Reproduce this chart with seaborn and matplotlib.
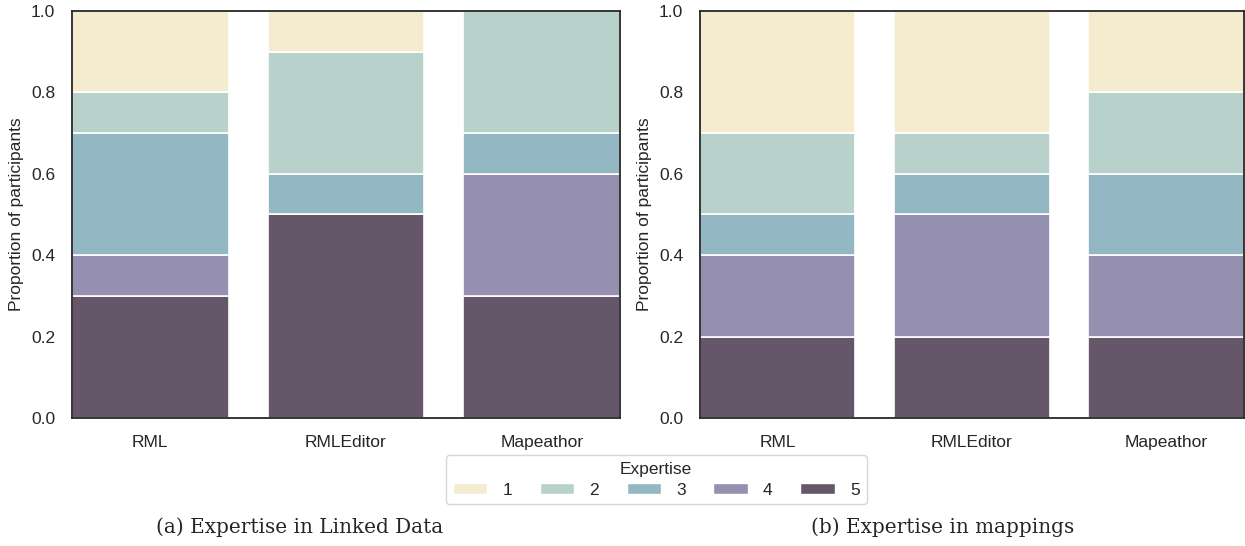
import matplotlib
matplotlib.use("Agg")
import matplotlib.pyplot as plt
from matplotlib.patches import Patch
import pandas as pd
import seaborn as sns

# Tools compared and expertise levels (1 = lowest, 5 = highest)
tools = ["RML", "RMLEditor", "Mapeathor"]
levels = ["1", "2", "3", "4", "5"]

# Number of participants per tool at each expertise level (levels 1..5)
linked_data_rml = [2, 1, 3, 1, 3]
linked_data_rmleditor = [1, 3, 1, 0, 5]
linked_data_mapeathor = [0, 3, 1, 3, 3]

mappings_rml = [3, 2, 1, 2, 2]
mappings_rmleditor = [3, 1, 1, 3, 2]
mappings_mapeathor = [2, 2, 2, 2, 2]

captions = ["(a) Expertise in Linked Data", "(b) Expertise in mappings"]
palette = ["#f5ecd0", "#b8d1ca", "#94b7c4", "#9590b0", "#655669"]


def to_frame(per_tool):
    rows = []
    for tool, counts in zip(tools, per_tool):
        for lvl, n in zip(levels, counts):
            rows.append({"Tool": tool, "Expertise": lvl, "Count": n})
    return pd.DataFrame(rows)


panels = [
    to_frame([linked_data_rml, linked_data_rmleditor, linked_data_mapeathor]),
    to_frame([mappings_rml, mappings_rmleditor, mappings_mapeathor]),
]

sns.set_theme(style="white")
plt.rcParams["font.family"] = ["Liberation Sans", "DejaVu Sans"]
FS = 12.5

fig = plt.figure(figsize=(12.45, 5.46), dpi=100)
axes = [
    fig.add_axes([0.0578, 0.2344, 0.4402, 0.7456]),
    fig.add_axes([0.5622, 0.2344, 0.4368, 0.7456]),
]

for ax, df in zip(axes, panels):
    sns.histplot(
        data=df, x="Tool", hue="Expertise", weights="Count",
        hue_order=levels, palette=palette, multiple="fill",
        shrink=0.8, discrete=True, alpha=1.0, edgecolor="white",
        linewidth=1.2, legend=False, ax=ax,
    )
    ax.set_xlim(-0.4, 2.4)
    ax.set_ylim(0, 1)
    ax.set_xlabel("")
    ax.set_ylabel("Proportion of participants", fontsize=FS, labelpad=5)
    ax.tick_params(axis="both", labelsize=FS, pad=6)
    for s in ax.spines.values():
        s.set_color("#262626")
        s.set_linewidth(1.3)

handles = [Patch(facecolor=c, edgecolor="white", label=l) for c, l in zip(palette, levels)]
fig.legend(
    handles=handles, title="Expertise", ncol=5, loc="center",
    bbox_to_anchor=(0.527, 0.121), fontsize=FS, title_fontsize=FS,
    handlelength=2.0, handleheight=0.6, columnspacing=1.6, handletextpad=0.85,
    frameon=True, edgecolor="#cccccc", borderpad=0.4, labelspacing=0.3,
)

for x, text in zip([0.241, 0.757], captions):
    fig.text(x, 0.035, text, ha="center", va="center", fontsize=14.4,
             family=["DejaVu Serif"])

fig.savefig("out.png", dpi=100)
